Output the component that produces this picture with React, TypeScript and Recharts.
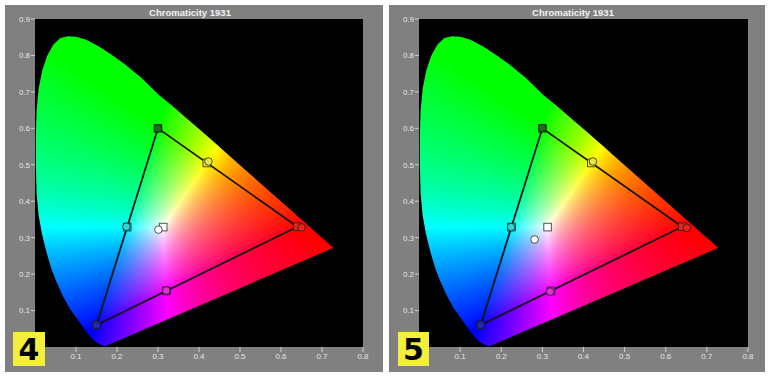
import React from 'react';
import { CartesianGrid, Scatter, ScatterChart, XAxis, YAxis } from 'recharts';

// horseshoe outline: violet end, up the left side, over the top, down to red
const locusX = [
  0.171, 0.16, 0.148, 0.132, 0.114, 0.098, 0.085, 0.068, 0.052, 0.04, 0.028, 0.017, 0.009, 0.004, 0.002, 0.002,
  0.004, 0.009, 0.018, 0.03, 0.045, 0.062, 0.08, 0.1, 0.125, 0.155, 0.185, 0.22, 0.26, 0.3016, 0.3373, 0.3731,
  0.4087, 0.4441, 0.4788, 0.5125, 0.5448, 0.5752, 0.6029, 0.627, 0.6482, 0.6658, 0.6801, 0.6915, 0.7006, 0.7079,
  0.714, 0.719, 0.726, 0.728,
];
const locusY = [
  0.002, 0.006, 0.014, 0.032, 0.06, 0.085, 0.105, 0.14, 0.18, 0.215, 0.26, 0.31, 0.36, 0.42, 0.5, 0.58,
  0.65, 0.71, 0.76, 0.8, 0.83, 0.848, 0.853, 0.851, 0.843, 0.825, 0.803, 0.775, 0.738, 0.6923, 0.6589, 0.6245,
  0.5896, 0.5547, 0.5202, 0.4866, 0.4544, 0.4242, 0.3965, 0.3725, 0.3514, 0.334, 0.3197, 0.3083, 0.2993, 0.292,
  0.2859, 0.2809, 0.274, 0.272,
];

const pointNames = ['Red', 'Green', 'Blue', 'Cyan', 'Magenta', 'Yellow', 'White'];
const pointColors = ['#e6261e', '#177217', '#2626b0', '#2fd6d6', '#de32d8', '#e9e640', '#ffffff'];
const targetX = [0.64, 0.3, 0.15, 0.225, 0.321, 0.419, 0.3127];
const targetY = [0.33, 0.6, 0.06, 0.329, 0.154, 0.505, 0.329];

const measured4X = [0.65, 0.3, 0.15, 0.223, 0.32, 0.423, 0.301];
const measured4Y = [0.328, 0.6, 0.06, 0.33, 0.155, 0.509, 0.322];
const measured5X = [0.651, 0.3, 0.15, 0.224, 0.319, 0.423, 0.281];
const measured5Y = [0.327, 0.601, 0.06, 0.329, 0.152, 0.509, 0.295];

const xTicks = [0.1, 0.2, 0.3, 0.4, 0.5, 0.6, 0.7, 0.8];
const yTicks = [0.1, 0.2, 0.3, 0.4, 0.5, 0.6, 0.7, 0.8, 0.9];

interface Pt {
  x: number;
  y: number;
  color?: string;
  name?: string;
}

const locus: Pt[] = locusX.map((x, i) => ({ x, y: locusY[i] }));
const targets: Pt[] = pointNames.map((name, i) => ({ name, x: targetX[i], y: targetY[i], color: pointColors[i] }));
const gamut: Pt[] = [0, 1, 2, 0].map((i) => targets[i]);
const toPts = (xs: number[], ys: number[]): Pt[] =>
  pointNames.map((name, i) => ({ name, x: xs[i], y: ys[i], color: pointColors[i] }));

const imgCache = new Map<string, string>();

// light encoding only: the reference looks more saturated than a full sRGB curve
const encode = (v: number) => Math.pow(v, 1 / 1.25);

// paints the chromaticity colours for the pixel box, pixel->data taken from the scaled locus points
const chromaImage = (bx: number, by: number, w: number, h: number, px0: number, sx: number, py0: number, sy: number) => {
  const key = [bx, by, w, h, px0, sx, py0, sy].map((v) => v.toFixed(3)).join('|');
  const hit = imgCache.get(key);
  if (hit) return hit;
  const canvas = document.createElement('canvas');
  canvas.width = w;
  canvas.height = h;
  const ctx = canvas.getContext('2d');
  if (!ctx) return '';
  const img = ctx.createImageData(w, h);
  for (let j = 0; j < h; j++) {
    for (let i = 0; i < w; i++) {
      const cx = (bx + i + 0.5 - px0) / sx;
      const cy = Math.max((by + j + 0.5 - py0) / sy, 0.002);
      const X = cx / cy;
      const Z = (1 - cx - cy) / cy;
      let r = Math.max(0, 3.2406 * X - 1.5372 - 0.4986 * Z);
      let g = Math.max(0, -0.9689 * X + 1.8758 + 0.0415 * Z);
      let b = Math.max(0, 0.0557 * X - 0.204 + 1.057 * Z);
      const m = Math.max(r, g, b) || 1;
      r /= m;
      g /= m;
      b /= m;
      const o = (j * w + i) * 4;
      img.data[o] = Math.round(255 * encode(r));
      img.data[o + 1] = Math.round(255 * encode(g));
      img.data[o + 2] = Math.round(255 * encode(b));
      img.data[o + 3] = 255;
    }
  }
  ctx.putImageData(img, 0, 0);
  const url = canvas.toDataURL();
  imgCache.set(key, url);
  return url;
};

const makeLocusLayer = (clipId: string) => (props: any) => {
  const pts: { x: number; y: number }[] = props.points || [];
  if (pts.length !== locus.length) return <g />;
  const ia = locusX.indexOf(Math.min(...locusX));
  const ib = locusX.indexOf(Math.max(...locusX));
  const ja = locusY.indexOf(Math.min(...locusY));
  const jb = locusY.indexOf(Math.max(...locusY));
  const sx = (pts[ib].x - pts[ia].x) / (locus[ib].x - locus[ia].x);
  const px0 = pts[ia].x - sx * locus[ia].x;
  const sy = (pts[jb].y - pts[ja].y) / (locus[jb].y - locus[ja].y);
  const py0 = pts[ja].y - sy * locus[ja].y;
  const bx = Math.floor(Math.min(...pts.map((p) => p.x)));
  const by = Math.floor(Math.min(...pts.map((p) => p.y)));
  const w = Math.ceil(Math.max(...pts.map((p) => p.x))) - bx + 1;
  const h = Math.ceil(Math.max(...pts.map((p) => p.y))) - by + 1;
  const url = chromaImage(bx, by, w, h, px0, sx, py0, sy);
  const poly = pts.map((p) => `${p.x},${p.y}`).join(' ');
  return (
    <g>
      <defs>
        <clipPath id={clipId}>
          <polygon points={poly} />
        </clipPath>
      </defs>
      <image href={url} x={bx} y={by} width={w} height={h} preserveAspectRatio="none" clipPath={`url(#${clipId})`} />
    </g>
  );
};

const noDot = () => <g />;

const squareShape = (p: any) => (
  <rect x={p.cx - 3.8} y={p.cy - 3.8} width={7.6} height={7.6} fill={p.payload.color} stroke="#1a1a1a" strokeOpacity={0.75} strokeWidth={1} />
);

const circleShape = (p: any) => (
  <circle cx={p.cx} cy={p.cy} r={3.8} fill={p.payload.color} stroke="#1a1a1a" strokeOpacity={0.75} strokeWidth={1} />
);

const tickStyle = { fill: '#e4e4e4', fontSize: 8, fontFamily: 'Liberation Sans, Arial, sans-serif' };

interface PanelProps {
  id: string;
  left: number;
  width: number;
  rightMargin: number;
  measured: Pt[];
  label: string;
  labelLeft: number;
  labelWidth: number;
}

const Panel = ({ id, left, width, rightMargin, measured, label, labelLeft, labelWidth }: PanelProps) => (
  <>
    <div style={{ position: 'absolute', left, top: 5, width, height: 367, background: '#808080' }}>
      <ScatterChart width={width} height={367} margin={{ top: 14, right: rightMargin, bottom: 0, left: 0 }}>
        <CartesianGrid fill="#000000" stroke="none" horizontal={false} vertical={false} />
        <XAxis
          type="number"
          dataKey="x"
          domain={[0, 0.8]}
          ticks={xTicks}
          allowDataOverflow
          height={25}
          axisLine={false}
          tickLine={{ stroke: '#d0d0d0' }}
          tickSize={5}
          tickMargin={1}
          tick={tickStyle}
          tickFormatter={(v) => v.toFixed(1)}
        />
        <YAxis
          type="number"
          dataKey="y"
          domain={[0, 0.9]}
          ticks={yTicks}
          allowDataOverflow
          width={30}
          axisLine={false}
          tickLine={{ stroke: '#d0d0d0' }}
          tickSize={4}
          tickMargin={1}
          tick={tickStyle}
          tickFormatter={(v) => v.toFixed(1)}
        />
        <Scatter data={locus} line={makeLocusLayer(`locus-${id}`)} lineType="joint" shape={noDot} isAnimationActive={false} />
        <Scatter data={gamut} line={{ stroke: '#141414', strokeWidth: 1.8 }} lineType="joint" shape={noDot} isAnimationActive={false} />
        <Scatter data={targets} shape={squareShape} isAnimationActive={false} />
        <Scatter data={measured} shape={circleShape} isAnimationActive={false} />
      </ScatterChart>
      <div
        style={{
          position: 'absolute',
          left: 0,
          top: 2,
          width: width - 8,
          textAlign: 'center',
          color: '#f2f2f2',
          fontFamily: 'Liberation Sans, Arial, sans-serif',
          fontWeight: 'bold',
          fontSize: 9.5,
          lineHeight: '11px',
        }}
      >
        Chromaticity 1931
      </div>
    </div>
    <div
      style={{
        position: 'absolute',
        left: labelLeft,
        top: 332,
        width: labelWidth,
        height: 34,
        background: '#f3ef3c',
        color: '#000',
        fontFamily: 'DejaVu Sans, sans-serif',
        fontWeight: 'bold',
        fontSize: 30,
        lineHeight: '36px',
        textAlign: 'center',
      }}
    >
      {label}
    </div>
  </>
);

export default function App() {
  return (
    <div style={{ position: 'absolute', left: 0, top: 0, width: 770, height: 378, background: '#ffffff', overflow: 'hidden' }}>
      <Panel id="a" left={5} width={378} rightMargin={20} measured={toPts(measured4X, measured4Y)} label="4" labelLeft={13} labelWidth={32} />
      <Panel id="b" left={389} width={376} rightMargin={17} measured={toPts(measured5X, measured5Y)} label="5" labelLeft={398} labelWidth={31} />
    </div>
  );
}
